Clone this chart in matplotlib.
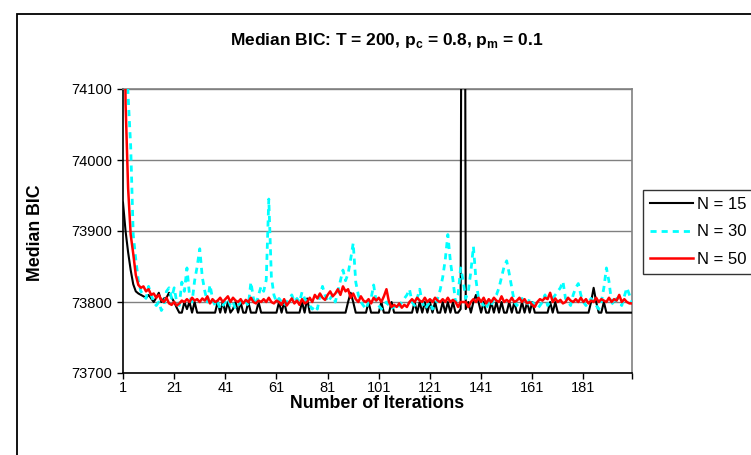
import numpy as np
import matplotlib
matplotlib.use("Agg")
import matplotlib.pyplot as plt
from matplotlib.patches import Rectangle

plt.rcParams['font.family'] = ['Liberation Sans', 'DejaVu Sans']
plt.rcParams['mathtext.fontset'] = 'custom'
plt.rcParams['mathtext.rm'] = 'Liberation Sans'
plt.rcParams['mathtext.bf'] = 'Liberation Sans:bold'

# iterations 1..200
iterations = list(range(1, 201))

# median BIC, N = 15
n15 = [73940, 73900, 73870, 73845, 73825, 73815, 73812, 73810, 73808, 73806, 73810, 73805, 73800, 73806, 73813, 73800, 73805, 73806, 73813, 73806,
       73800, 73792, 73785, 73785, 73800, 73790, 73800, 73785, 73800, 73785, 73785, 73785, 73785, 73785, 73785, 73785, 73785, 73800, 73785, 73800,
       73785, 73800, 73785, 73790, 73800, 73785, 73800, 73785, 73785, 73800, 73785, 73785, 73785, 73800, 73785, 73785, 73785, 73785, 73785, 73785,
       73785, 73800, 73785, 73800, 73785, 73785, 73785, 73785, 73785, 73785, 73800, 73785, 73805, 73785, 73785, 73785, 73785, 73785, 73785, 73785,
       73785, 73785, 73785, 73785, 73785, 73785, 73785, 73785, 73800, 73813, 73800, 73785, 73785, 73785, 73785, 73785, 73800, 73785, 73785, 73785,
       73785, 73800, 73785, 73785, 73785, 73800, 73785, 73785, 73785, 73785, 73785, 73785, 73785, 73785, 73800, 73785, 73800, 73785, 73800, 73785,
       73800, 73785, 73800, 73785, 73785, 73800, 73785, 73800, 73785, 73800, 73785, 73785, 73790, 75500, 73790, 73800, 73785, 73800, 73810, 73800,
       73785, 73800, 73785, 73785, 73800, 73785, 73800, 73785, 73800, 73785, 73785, 73800, 73785, 73800, 73785, 73785, 73800, 73785, 73800, 73785,
       73800, 73785, 73785, 73785, 73785, 73785, 73785, 73800, 73785, 73800, 73785, 73785, 73785, 73785, 73785, 73785, 73785, 73785, 73785, 73785,
       73785, 73785, 73785, 73800, 73820, 73800, 73785, 73785, 73800, 73785, 73785, 73785, 73785, 73785, 73785, 73785, 73785, 73785, 73785, 73785]

# median BIC, N = 30
n30 = [74250, 74180, 74090, 74020, 73895, 73860, 73830, 73815, 73810, 73805, 73822, 73810, 73800, 73795, 73800, 73788, 73795, 73815, 73820, 73805,
       73820, 73800, 73795, 73828, 73815, 73848, 73810, 73800, 73830, 73850, 73875, 73835, 73815, 73800, 73824, 73805, 73795, 73800, 73790, 73795,
       73800, 73805, 73795, 73800, 73790, 73795, 73800, 73805, 73800, 73795, 73828, 73805, 73795, 73810, 73822, 73815, 73831, 73945, 73836, 73810,
       73800, 73805, 73800, 73795, 73800, 73805, 73810, 73800, 73805, 73800, 73814, 73805, 73800, 73795, 73790, 73795, 73790, 73810, 73822, 73810,
       73800, 73805, 73810, 73800, 73815, 73830, 73845, 73830, 73840, 73860, 73883, 73828, 73810, 73800, 73795, 73790, 73800, 73805, 73824, 73800,
       73795, 73790, 73795, 73800, 73795, 73790, 73795, 73790, 73795, 73800, 73805, 73810, 73818, 73800, 73795, 73805, 73818, 73800, 73790, 73795,
       73800, 73790, 73795, 73805, 73817, 73835, 73860, 73895, 73857, 73831, 73800, 73810, 73848, 73830, 73805, 73815, 73843, 73878, 73831, 73805,
       73800, 73795, 73790, 73800, 73795, 73805, 73810, 73820, 73835, 73850, 73858, 73840, 73820, 73800, 73795, 73800, 73805, 73800, 73795, 73805,
       73800, 73795, 73790, 73795, 73800, 73810, 73795, 73800, 73805, 73810, 73815, 73820, 73829, 73805, 73800, 73795, 73810, 73820, 73826, 73810,
       73800, 73795, 73800, 73805, 73800, 73795, 73790, 73800, 73820, 73848, 73829, 73800, 73795, 73805, 73800, 73795, 73808, 73820, 73810, 73800]

# median BIC, N = 50
n50 = [74500, 74080, 73960, 73895, 73868, 73838, 73824, 73820, 73822, 73815, 73818, 73810, 73812, 73806, 73810, 73803, 73800, 73806, 73798, 73796,
       73800, 73795, 73798, 73802, 73800, 73804, 73800, 73806, 73802, 73804, 73800, 73805, 73802, 73808, 73798, 73804, 73800, 73802, 73806, 73800,
       73804, 73808, 73800, 73806, 73802, 73800, 73804, 73798, 73803, 73800, 73806, 73800, 73798, 73802, 73800, 73804, 73800, 73806, 73800, 73798,
       73802, 73800, 73796, 73804, 73795, 73800, 73805, 73798, 73802, 73796, 73804, 73798, 73800, 73806, 73800, 73810, 73805, 73812, 73806, 73803,
       73810, 73815, 73808, 73812, 73818, 73810, 73822, 73815, 73818, 73806, 73812, 73804, 73800, 73808, 73802, 73800, 73804, 73798, 73806, 73802,
       73806, 73800, 73808, 73818, 73800, 73793, 73796, 73793, 73798, 73792, 73796, 73793, 73800, 73804, 73800, 73806, 73802, 73800, 73806, 73800,
       73804, 73800, 73806, 73802, 73800, 73804, 73800, 73806, 73800, 73803, 73800, 73793, 73800, 73800, 73800, 73793, 73800, 73804, 73800, 73806,
       73800, 73806, 73798, 73804, 73800, 73806, 73802, 73800, 73808, 73800, 73803, 73800, 73806, 73800, 73802, 73806, 73800, 73804, 73798, 73800,
       73796, 73793, 73800, 73804, 73802, 73806, 73804, 73813, 73800, 73805, 73800, 73803, 73798, 73800, 73806, 73802, 73800, 73804, 73800, 73806,
       73800, 73804, 73798, 73802, 73800, 73806, 73800, 73804, 73802, 73800, 73806, 73800, 73804, 73802, 73810, 73800, 73804, 73800, 73798, 73798]

series_labels = ['N = 15', 'N = 30', 'N = 50']
x_ticks = [1, 21, 41, 61, 81, 101, 121, 141, 161, 181]
y_ticks = [73700, 73800, 73900, 74000, 74100]

W, H = 751, 455
fig = plt.figure(figsize=(W / 100, H / 100), dpi=100)
fig.patch.set_facecolor('white')

# chart area border (runs off the right and bottom edges)
fig.patches.append(Rectangle((17 / W, -0.05), 1.1, 1 - 14 / H + 0.05, transform=fig.transFigure,
                             fill=False, edgecolor='black', lw=1.3, zorder=0))

ax = fig.add_axes([123 / W, 1 - 373 / H, (632 - 123) / W, (373 - 89) / H])

ax.plot(iterations, n15, color='black', lw=1.5, label=series_labels[0], zorder=3)
ax.plot(iterations, n30, color='#00FFFF', lw=2, linestyle=(0, (2.2, 1.8)), label=series_labels[1], zorder=4)
ax.plot(iterations, n50, color='#FF0000', lw=1.8, label=series_labels[2], zorder=5)

ax.set_xlim(1, 200)
ax.set_ylim(73700, 74100)
ax.set_xticks(x_ticks)
ax.set_xticks([200], minor=True)
ax.set_yticks(y_ticks)
ax.tick_params(axis='both', which='both', direction='out', length=4, width=1, labelsize=10.5, colors='black')
ax.tick_params(axis='x', pad=2)
ax.tick_params(axis='y', pad=4)
ax.grid(axis='y', color='#808080', lw=1, zorder=1)

for side in ['top', 'right']:
    ax.spines[side].set_color('#808080')
    ax.spines[side].set_linewidth(1.2)
for side in ['left', 'bottom']:
    ax.spines[side].set_color('black')
    ax.spines[side].set_linewidth(1.2)

fig.text(387 / W, 1 - 40 / H, r'Median BIC: T = 200, p$_\mathbf{c}$ = 0.8, p$_\mathbf{m}$ = 0.1',
         ha='center', va='center', fontsize=12.5, fontweight='bold')
fig.text(377 / W, 1 - 404 / H, 'Number of Iterations', ha='center', va='center', fontsize=12.8, fontweight='bold')
fig.text(35 / W, 1 - 233 / H, 'Median BIC', ha='center', va='center', rotation=90, fontsize=12.8, fontweight='bold')

leg = ax.legend(loc='upper left', bbox_to_anchor=(643 / W, 1 - 190 / H), bbox_transform=fig.transFigure,
                fontsize=12, frameon=True, fancybox=False, shadow=False, borderaxespad=0,
                handlelength=2.6, handletextpad=0.24, labelspacing=0.76, borderpad=0.4)
leg.get_frame().set_edgecolor('black')
leg.get_frame().set_linewidth(1.0)

fig.savefig('out.png', dpi=100)
